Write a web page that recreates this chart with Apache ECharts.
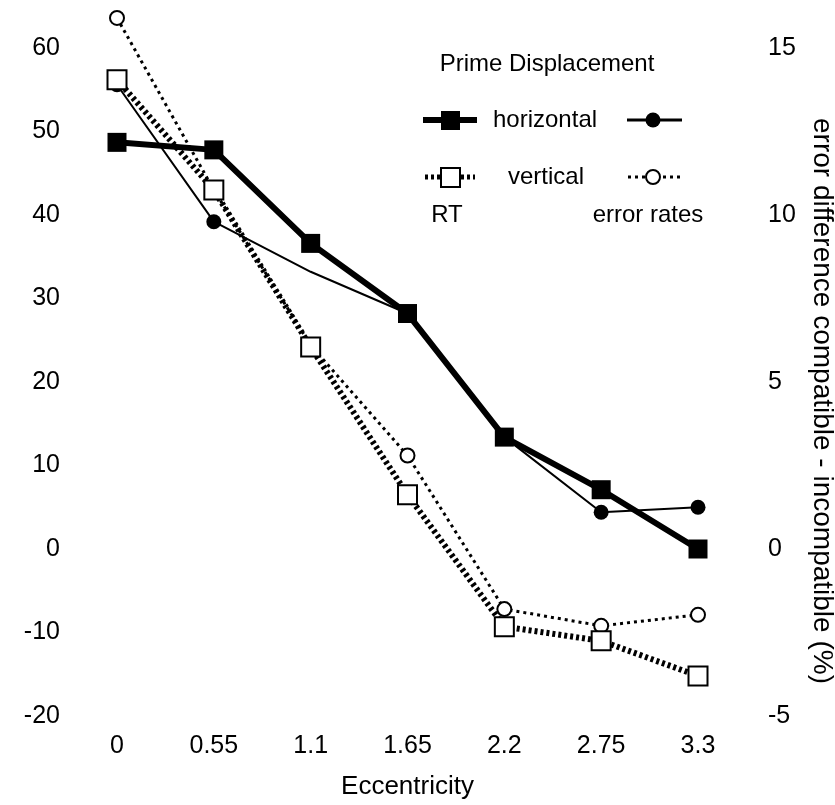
<!DOCTYPE html>
<html>
<head>
<meta charset="utf-8">
<script src="https://cdn.jsdelivr.net/npm/echarts@6/dist/echarts.min.js"></script>
<style>
html,body{margin:0;padding:0;background:#fff;}
#chart{width:835px;height:805px;}
</style>
</head>
<body>
<div id="chart"></div>
<script>
// ---- data ----
var eccentricity = ['0', '0.55', '1.1', '1.65', '2.2', '2.75', '3.3'];
var rtHorizontal = [48.7, 47.8, 36.6, 28.2, 13.4, 7.1, 0];        // RT (left axis)
var rtVertical = [56.2, 43.0, 24.2, 6.5, -9.3, -11.0, -15.2];     // RT (left axis)
var errHorizontal = [13.9, 9.8, 8.3, 7.05, 3.35, 1.1, 1.25];      // error rates (right axis)
var errVertical = [15.9, 10.75, 6.1, 2.8, -1.8, -2.3, -1.97];     // error rates (right axis)
var leftTicks = {min: -20, max: 60, interval: 10};
var rightTicks = {min: -5, max: 15, interval: 5};
var rightTitle = 'error difference compatible - incompatible (%)';

var FONT = 'Liberation Sans';
var chart = echarts.init(document.getElementById('chart'), null, {renderer: 'canvas'});

var option = {
  animation: false,
  backgroundColor: '#fff',
  textStyle: {fontFamily: FONT, color: '#000'},
  grid: {left: 117, right: 137, top: 48, bottom: 85},
  xAxis: {
    type: 'category',
    data: eccentricity,
    boundaryGap: false,
    axisLine: {show: false},
    axisTick: {show: false},
    splitLine: {show: false},
    axisLabel: {color: '#000', fontSize: 25, fontFamily: FONT, margin: 18},
    name: 'Eccentricity',
    nameLocation: 'middle',
    nameGap: 58,
    nameTextStyle: {color: '#000', fontSize: 26, fontFamily: FONT}
  },
  yAxis: [
    {
      type: 'value',
      position: 'left',
      min: leftTicks.min, max: leftTicks.max, interval: leftTicks.interval,
      axisLine: {show: false},
      axisTick: {show: false},
      splitLine: {show: false},
      axisLabel: {color: '#000', fontSize: 25, fontFamily: FONT, margin: 57}
    },
    {
      type: 'value',
      position: 'right',
      min: rightTicks.min, max: rightTicks.max, interval: rightTicks.interval,
      axisLine: {show: false},
      axisTick: {show: false},
      splitLine: {show: false},
      axisLabel: {color: '#000', fontSize: 25, fontFamily: FONT, margin: 70}
    }
  ],
  series: [
    {
      name: 'error horizontal',
      type: 'line',
      yAxisIndex: 1,
      clip: false,
      data: errHorizontal,
      symbol: 'circle',
      symbolSize: function (v, p) { return p.dataIndex === 2 ? 0 : 15; },
      lineStyle: {color: '#000', width: 2},
      itemStyle: {color: '#000', borderWidth: 0}
    },
    {
      name: 'error vertical',
      type: 'line',
      yAxisIndex: 1,
      clip: false,
      data: errVertical,
      symbol: 'circle',
      symbolSize: 14,
      lineStyle: {color: '#000', width: 3, type: [3, 4]},
      itemStyle: {color: '#fff', borderColor: '#000', borderWidth: 2}
    },
    {
      name: 'RT vertical',
      type: 'line',
      yAxisIndex: 0,
      clip: false,
      data: rtVertical,
      symbol: 'rect',
      symbolSize: 19,
      lineStyle: {color: '#000', width: 6, type: [3, 3]},
      itemStyle: {color: '#fff', borderColor: '#000', borderWidth: 2}
    },
    {
      name: 'RT horizontal',
      type: 'line',
      yAxisIndex: 0,
      clip: false,
      data: rtHorizontal,
      symbol: 'rect',
      symbolSize: 19,
      lineStyle: {color: '#000', width: 6},
      itemStyle: {color: '#000', borderWidth: 0}
    }
  ],
  graphic: [
    {type: 'text', x: 822, y: 401, rotation: -Math.PI / 2,
     style: {text: rightTitle, font: '28px "Liberation Sans"', fill: '#000', align: 'center', verticalAlign: 'middle'}},
    {type: 'text', x: 547, y: 64, style: {text: 'Prime Displacement', font: '24px "Liberation Sans"', fill: '#000', align: 'center', verticalAlign: 'middle'}},
    // row 1
    {type: 'line', shape: {x1: 423, y1: 120, x2: 477, y2: 120}, style: {stroke: '#000', lineWidth: 6}},
    {type: 'rect', shape: {x: 441, y: 111, width: 19, height: 19}, style: {fill: '#000'}},
    {type: 'text', x: 493, y: 120, style: {text: 'horizontal', font: '24px "Liberation Sans"', fill: '#000', align: 'left', verticalAlign: 'middle'}},
    {type: 'line', shape: {x1: 627, y1: 120, x2: 682, y2: 120}, style: {stroke: '#000', lineWidth: 3}},
    {type: 'circle', shape: {cx: 653, cy: 120, r: 7.5}, style: {fill: '#000'}},
    // row 2
    {type: 'line', shape: {x1: 425, y1: 177, x2: 475, y2: 177}, style: {stroke: '#000', lineWidth: 5, lineDash: [3, 3]}},
    {type: 'rect', shape: {x: 441, y: 168, width: 19, height: 19}, style: {fill: '#fff', stroke: '#000', lineWidth: 2}},
    {type: 'text', x: 508, y: 177, style: {text: 'vertical', font: '24px "Liberation Sans"', fill: '#000', align: 'left', verticalAlign: 'middle'}},
    {type: 'line', shape: {x1: 628, y1: 177, x2: 680, y2: 177}, style: {stroke: '#000', lineWidth: 3, lineDash: [3, 4]}},
    {type: 'circle', shape: {cx: 653, cy: 177, r: 7}, style: {fill: '#fff', stroke: '#000', lineWidth: 2}},
    // row 3
    {type: 'text', x: 447, y: 215, style: {text: 'RT', font: '24px "Liberation Sans"', fill: '#000', align: 'center', verticalAlign: 'middle'}},
    {type: 'text', x: 648, y: 215, style: {text: 'error rates', font: '24px "Liberation Sans"', fill: '#000', align: 'center', verticalAlign: 'middle'}}
  ]
};
chart.setOption(option);
</script>
</body>
</html>
